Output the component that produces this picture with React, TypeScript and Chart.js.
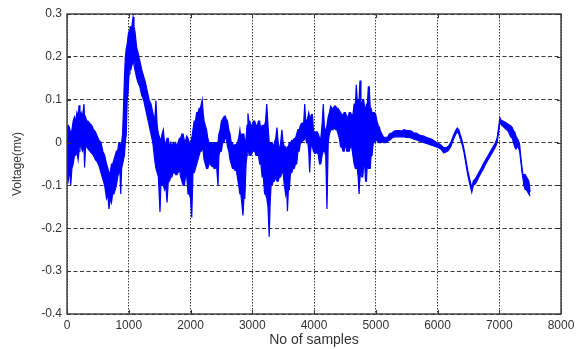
import React, { useEffect, useRef } from "react";
import { Chart, registerables } from "chart.js";

Chart.register(...registerables);

// Envelope of the noisy trace:
// [sample index, lowest voltage (mV), highest voltage (mV)]
const envelopePart1: [number, number, number][] = [
  [0, -0.08, 0.03], [20, -0.09, 0.04], [40, -0.06, 0.035], [60, -0.1, 0.02], [80, -0.06, 0.03], [100, -0.05, 0.05],
  [120, -0.03, 0.06], [140, -0.03, 0.05], [160, -0.02, 0.07], [180, -0.04, 0.06], [195, -0.02, 0.087], [210, -0.01, 0.06],
  [230, -0.01, 0.07], [250, -0.02, 0.06], [275, -0.01, 0.09], [285, -0.058, 0.05], [300, -0.01, 0.06], [320, -0.01, 0.05],
  [340, -0.015, 0.05], [370, -0.02, 0.045], [400, -0.025, 0.04], [430, -0.03, 0.03], [460, -0.04, 0.025], [490, -0.045, 0.015],
  [520, -0.055, 0.005], [550, -0.07, 0.0], [580, -0.085, -0.02], [610, -0.1, -0.03], [640, -0.13, -0.05], [660, -0.12, -0.06],
  [680, -0.155, -0.07], [700, -0.13, -0.07], [720, -0.14, -0.05], [740, -0.12, -0.05], [760, -0.12, -0.04], [780, -0.11, -0.03],
  [800, -0.1, -0.02], [820, -0.08, -0.02], [840, -0.07, 0.0], [855, -0.06, 0.0], [870, -0.12, -0.01], [885, -0.06, 0.0],
  [900, -0.05, 0.02], [915, -0.04, 0.08], [930, -0.03, 0.15], [945, 0.0, 0.2], [960, 0.02, 0.22], [975, 0.1, 0.23],
  [990, 0.12, 0.25], [1005, 0.16, 0.26], [1020, 0.17, 0.27], [1035, 0.17, 0.27], [1050, 0.18, 0.27], [1070, 0.19, 0.293],
  [1085, 0.19, 0.27], [1100, 0.17, 0.26], [1115, 0.16, 0.24], [1130, 0.15, 0.22], [1150, 0.14, 0.21], [1180, 0.13, 0.19],
  [1210, 0.11, 0.17], [1240, 0.1, 0.155], [1270, 0.08, 0.14], [1300, 0.06, 0.12], [1330, 0.04, 0.1], [1360, 0.02, 0.09],
  [1390, 0.0, 0.07], [1420, -0.04, 0.05], [1440, -0.06, 0.098], [1460, -0.07, 0.04], [1480, -0.08, 0.02], [1506, -0.162, 0.01],
  [1520, -0.1, 0.0], [1540, -0.1, 0.02], [1560, -0.1, 0.03], [1580, -0.11, 0.0], [1600, -0.1, 0.0], [1620, -0.14, 0.01],
  [1640, -0.09, 0.01], [1660, -0.09, -0.01], [1680, -0.08, 0.0], [1700, -0.08, -0.01], [1720, -0.07, 0.0], [1740, -0.07, -0.005],
  [1760, -0.075, 0.0], [1780, -0.075, -0.01], [1800, -0.07, 0.0], [1820, -0.06, 0.01], [1840, -0.08, 0.01], [1860, -0.09, 0.02],
  [1880, -0.1, 0.02], [1900, -0.1, 0.005], [1920, -0.08, 0.005], [1940, -0.08, 0.015], [1960, -0.12, 0.01], [1980, -0.12, 0.0],
  [2000, -0.13, 0.0], [2020, -0.175, 0.01], [2040, -0.07, 0.03], [2060, -0.07, 0.05], [2080, -0.06, 0.05], [2100, -0.05, 0.07],
  [2120, -0.04, 0.07], [2140, -0.03, 0.08], [2160, -0.02, 0.08], [2175, -0.02, 0.09], [2190, -0.01, 0.1], [2205, -0.02, 0.07],
  [2220, -0.04, 0.05], [2240, -0.05, 0.04], [2260, -0.06, 0.03], [2280, -0.06, 0.01], [2300, -0.05, 0.0], [2320, -0.05, 0.0],
  [2340, -0.055, 0.0], [2360, -0.055, -0.005], [2380, -0.06, 0.0], [2400, -0.06, 0.0], [2420, -0.05, 0.0], [2445, -0.1, 0.0],
  [2460, -0.03, 0.02], [2480, -0.02, 0.03], [2500, -0.02, 0.05],
];

const envelopePart2: [number, number, number][] = [
  [2520, 0.0, 0.055], [2540, 0.0, 0.06], [2560, 0.01, 0.062], [2580, 0.01, 0.055], [2600, -0.01, 0.05], [2620, -0.02, 0.03],
  [2640, -0.04, 0.02], [2660, -0.05, 0.0], [2680, -0.06, 0.0], [2700, -0.06, -0.01], [2720, -0.065, -0.005], [2740, -0.065, -0.005],
  [2760, -0.08, 0.0], [2780, -0.1, 0.01], [2800, -0.12, 0.03], [2815, -0.12, 0.01], [2830, -0.14, 0.02], [2850, -0.17, 0.02],
  [2865, -0.13, 0.02], [2880, -0.13, 0.0], [2900, -0.05, 0.01], [2915, -0.03, 0.04], [2930, -0.02, 0.068], [2945, -0.02, 0.05],
  [2960, -0.03, 0.05], [2980, -0.03, 0.04], [3000, -0.02, 0.04], [3020, -0.02, 0.05], [3040, -0.02, 0.05], [3060, -0.03, 0.04],
  [3080, -0.03, 0.04], [3100, -0.03, 0.05], [3120, -0.05, 0.05], [3140, -0.05, 0.03], [3160, -0.08, 0.04], [3180, -0.08, 0.04],
  [3200, -0.12, 0.04], [3215, -0.12, 0.05], [3235, -0.13, 0.09], [3255, -0.15, 0.04], [3275, -0.22, 0.0], [3290, -0.14, 0.0],
  [3305, -0.1, 0.0], [3320, -0.1, 0.0], [3340, -0.09, -0.01], [3360, -0.09, 0.0], [3380, -0.08, 0.01], [3400, -0.09, 0.035],
  [3420, -0.09, 0.0], [3440, -0.08, -0.02], [3460, -0.08, 0.0], [3480, -0.07, 0.03], [3500, -0.07, 0.0], [3520, -0.1, -0.01],
  [3540, -0.12, -0.01], [3555, -0.1, -0.02], [3570, -0.16, -0.01], [3585, -0.11, -0.01], [3600, -0.11, 0.0], [3620, -0.07, 0.0],
  [3640, -0.07, 0.005], [3660, -0.06, 0.005], [3680, -0.06, 0.01], [3700, -0.05, 0.01], [3720, -0.05, 0.02], [3740, -0.02, 0.03],
  [3760, -0.02, 0.03], [3780, 0.0, 0.04], [3800, 0.0, 0.045], [3820, 0.005, 0.045], [3835, 0.005, 0.05], [3850, 0.01, 0.09],
  [3865, 0.01, 0.05], [3880, 0.0, 0.05], [3900, 0.0, 0.06], [3915, -0.02, 0.07], [3930, -0.07, 0.06], [3945, -0.02, 0.06],
  [3960, 0.0, 0.065], [3975, -0.01, 0.065], [3990, -0.02, 0.03], [4010, -0.025, 0.02], [4030, -0.025, 0.025], [4050, -0.02, 0.025],
  [4070, -0.03, 0.02], [4090, -0.05, 0.01], [4110, -0.05, 0.01], [4130, -0.03, 0.04], [4150, -0.02, 0.09], [4170, -0.02, 0.03],
  [4190, -0.03, 0.03], [4210, -0.155, 0.04], [4230, 0.0, 0.06], [4250, 0.02, 0.07], [4270, 0.03, 0.085], [4290, 0.03, 0.08],
  [4310, 0.03, 0.08], [4330, 0.035, 0.085], [4350, 0.03, 0.085], [4370, 0.03, 0.08], [4390, 0.02, 0.08], [4410, 0.01, 0.075],
  [4430, -0.01, 0.07], [4450, -0.01, 0.065], [4470, -0.02, 0.065], [4490, -0.02, 0.07], [4510, 0.0, 0.07], [4530, -0.02, 0.06],
  [4550, -0.02, 0.06], [4570, -0.02, 0.07], [4590, -0.01, 0.07], [4610, -0.01, 0.065], [4630, -0.03, 0.065], [4650, -0.05, 0.09],
  [4670, -0.06, 0.09], [4685, -0.06, 0.135], [4700, -0.06, 0.1], [4715, -0.08, 0.1], [4730, -0.12, 0.1], [4745, -0.07, 0.145],
  [4760, -0.07, 0.09], [4775, -0.08, 0.09], [4790, -0.08, 0.1], [4805, -0.05, 0.1], [4820, -0.05, 0.08], [4835, -0.09, 0.08],
  [4850, -0.09, 0.09], [4865, -0.04, 0.09], [4880, -0.06, 0.13], [4895, -0.06, 0.13], [4910, -0.06, 0.08], [4925, -0.03, 0.08],
  [4940, -0.03, 0.07], [4960, 0.0, 0.07], [4980, 0.0, 0.07],
];

const envelopePart3: [number, number, number][] = [
  [5000, 0.005, 0.065], [5020, 0.005, 0.05], [5040, 0.0, 0.04], [5060, 0.0, 0.035], [5080, 0.0, 0.025], [5100, 0.005, 0.02],
  [5130, 0.0, 0.012], [5160, 0.0, 0.012], [5190, 0.003, 0.012], [5220, 0.005, 0.02], [5260, 0.01, 0.022], [5300, 0.013, 0.027],
  [5340, 0.014, 0.028], [5380, 0.013, 0.028], [5420, 0.013, 0.027], [5460, 0.013, 0.03], [5500, 0.012, 0.028], [5540, 0.012, 0.028],
  [5580, 0.01, 0.027], [5620, 0.008, 0.022], [5660, 0.006, 0.022], [5700, 0.004, 0.018], [5740, 0.002, 0.016], [5780, 0.0, 0.015],
  [5820, -0.002, 0.012], [5860, -0.004, 0.01], [5900, -0.006, 0.008], [5940, -0.008, 0.005], [5980, -0.01, 0.0], [6020, -0.012, -0.002],
  [6060, -0.016, -0.006], [6100, -0.024, -0.012], [6140, -0.022, -0.012], [6180, -0.018, -0.008], [6220, -0.008, 0.002], [6260, 0.008, 0.017],
  [6290, 0.018, 0.027], [6320, 0.026, 0.034], [6345, 0.02, 0.03], [6370, 0.008, 0.018], [6400, -0.005, 0.004], [6430, -0.024, -0.016],
  [6460, -0.05, -0.04], [6490, -0.075, -0.065], [6520, -0.095, -0.085], [6555, -0.116, -0.105], [6580, -0.1, -0.09], [6620, -0.095, -0.083],
  [6660, -0.083, -0.072], [6700, -0.072, -0.062], [6740, -0.062, -0.05], [6780, -0.05, -0.04], [6820, -0.04, -0.03], [6860, -0.03, -0.02],
  [6900, -0.02, -0.01], [6940, -0.01, 0.0], [6965, 0.0, 0.01], [6990, 0.025, 0.035], [7010, 0.05, 0.058], [7030, 0.042, 0.052],
  [7060, 0.038, 0.05], [7090, 0.034, 0.048], [7120, 0.03, 0.045], [7150, 0.025, 0.042], [7180, 0.015, 0.04], [7210, 0.01, 0.035],
  [7230, 0.0, 0.028], [7250, -0.01, 0.025], [7270, -0.015, 0.015], [7290, -0.01, 0.01], [7310, -0.012, 0.005], [7330, -0.02, -0.005],
  [7350, -0.045, -0.035], [7370, -0.07, -0.06], [7385, -0.085, -0.075], [7400, -0.1, -0.075], [7420, -0.11, -0.075], [7440, -0.11, -0.08],
  [7460, -0.115, -0.085], [7480, -0.12, -0.09], [7500, -0.125, -0.115],
];

const xTickStep = 1000;
const xRange = [0, 8000];
const yTickStep = 0.1;
const yRange = [-0.4, 0.3];
const xTitle = "No of samples";
const yTitle = "Voltage(mv)";

const FONT = "'Liberation Sans', Arial, sans-serif";
const TEXT = "#333333";
const TRACE = "#0000ff";

const frameAndTicks = {
  id: "frameAndTicks",
  afterDatasetsDraw(chart: any) {
    const { ctx, chartArea: a, scales } = chart;
    const xs = scales.x;
    const ys = scales.y;
    ctx.save();
    ctx.strokeStyle = "#333333";
    ctx.lineWidth = 1;
    ctx.setLineDash([]);
    const len = 4;
    ctx.beginPath();
    xs.ticks.forEach((t: any) => {
      const px = Math.round(xs.getPixelForValue(t.value)) + 0.5;
      ctx.moveTo(px, a.bottom);
      ctx.lineTo(px, a.bottom - len);
      ctx.moveTo(px, a.top);
      ctx.lineTo(px, a.top + len);
    });
    ys.ticks.forEach((t: any) => {
      const py = Math.round(ys.getPixelForValue(t.value)) + 0.5;
      ctx.moveTo(a.left, py);
      ctx.lineTo(a.left + len, py);
      ctx.moveTo(a.right, py);
      ctx.lineTo(a.right - len, py);
    });
    ctx.stroke();
    ctx.lineWidth = 1.4;
    ctx.strokeStyle = "#3a3a3a";
    ctx.strokeRect(a.left, a.top, a.right - a.left, a.bottom - a.top);
    ctx.restore();
  },
};

export default function App() {
  const canvasRef = useRef<HTMLCanvasElement | null>(null);

  useEffect(() => {
    document.body.style.margin = "0";
    const canvas = canvasRef.current;
    if (!canvas) return;
    const rows = [...envelopePart1, ...envelopePart2, ...envelopePart3];
    const upper = rows.map(([x, , hi]) => ({ x, y: hi }));
    const lower = rows.map(([x, lo]) => ({ x, y: lo }));
    const chart = new Chart(canvas, {
      type: "line",
      data: {
        datasets: [
          {
            data: upper,
            borderColor: TRACE,
            backgroundColor: TRACE,
            borderWidth: 1.2,
            pointRadius: 0,
            tension: 0,
            fill: "+1",
          },
          {
            data: lower,
            borderColor: TRACE,
            backgroundColor: TRACE,
            borderWidth: 1.2,
            pointRadius: 0,
            tension: 0,
            fill: false,
          },
        ],
      },
      options: {
        animation: false,
        responsive: false,
        devicePixelRatio: 1,
        layout: { padding: { left: 0, right: 21, top: 14, bottom: 0 } },
        plugins: { legend: { display: false }, tooltip: { enabled: false } },
        scales: {
          x: {
            type: "linear",
            min: xRange[0],
            max: xRange[1],
            afterFit: (s: any) => {
              s.height = 35;
            },
            ticks: {
              stepSize: xTickStep,
              padding: 4,
              maxRotation: 0,
              color: TEXT,
              font: { family: FONT, size: 12 },
              callback: (v: any) => String(v),
            },
            grid: { color: "#3a3a3a", lineWidth: 1, drawTicks: false },
            border: { display: false, dash: [1.5, 1.5] },
            title: {
              display: true,
              text: xTitle,
              color: TEXT,
              font: { family: FONT, size: 14 },
              padding: { top: 0, bottom: 0 },
            },
          },
          y: {
            type: "linear",
            min: yRange[0],
            max: yRange[1],
            afterFit: (s: any) => {
              s.width = 67;
            },
            ticks: {
              stepSize: yTickStep,
              padding: 5,
              color: TEXT,
              font: { family: FONT, size: 12 },
              callback: (v: any) => {
                const r = Math.round(Number(v) * 10) / 10;
                return r === 0 ? "0" : String(r);
              },
            },
            grid: { color: "#3a3a3a", lineWidth: 1, drawTicks: false },
            border: { display: false, dash: [4, 2.5] },
            title: {
              display: true,
              text: yTitle,
              color: TEXT,
              font: { family: FONT, size: 12 },
              padding: { top: 10, bottom: 0 },
            },
          },
        },
      },
      plugins: [frameAndTicks],
    });
    return () => chart.destroy();
  }, []);

  return (
    <div style={{ width: 582, height: 349, position: "relative", background: "#fff" }}>
      <canvas ref={canvasRef} width={582} height={349} style={{ display: "block" }} />
    </div>
  );
}
